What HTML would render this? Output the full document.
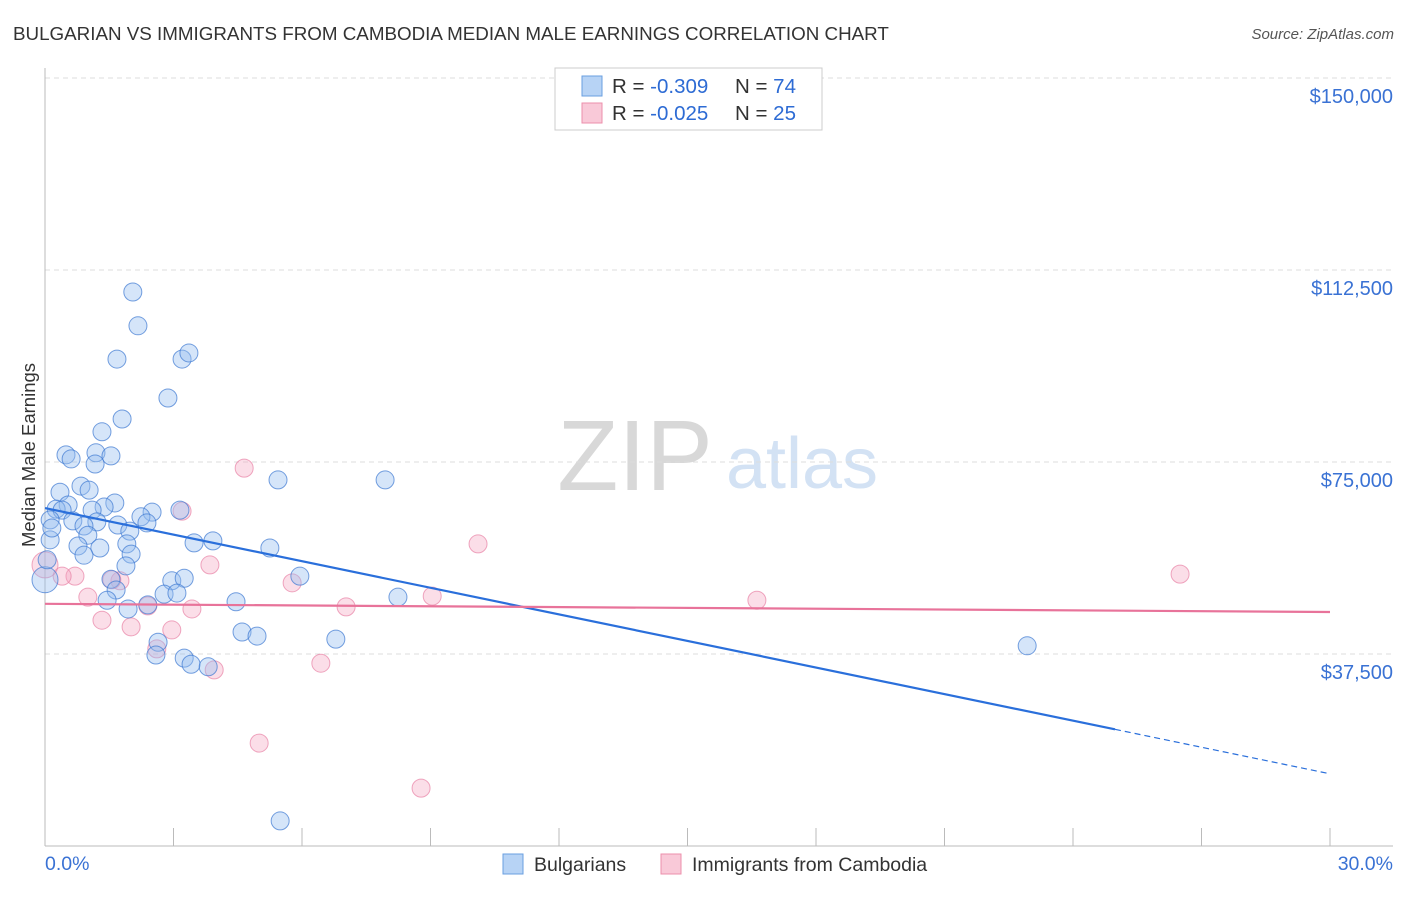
<!DOCTYPE html>
<html><head><meta charset="utf-8"><style>
body{margin:0;background:#fff;font-family:"Liberation Sans",sans-serif;}
svg text{font-family:"Liberation Sans",sans-serif;}
</style></head><body>
<svg id="chart" width="1406" height="892">
<text x="13" y="40" font-size="18.8" fill="#333">BULGARIAN VS IMMIGRANTS FROM CAMBODIA MEDIAN MALE EARNINGS CORRELATION CHART</text>
<text x="1394" y="39" font-size="15" fill="#555" font-style="italic" text-anchor="end">Source: ZipAtlas.com</text>
<g>
<text x="635" y="490" font-size="100" fill="#d8d8d8" font-family="Liberation Serif" text-anchor="middle">ZIP</text>
<text x="802" y="488" font-size="72" fill="#d3e2f4" text-anchor="middle">atlas</text>
</g>
<g id="grid"></g>
<g id="axes"></g>
<g id="marks"></g>
<text transform="translate(35,455) rotate(-90)" font-size="18.5" fill="#333" text-anchor="middle">Median Male Earnings</text>
<g>
<rect x="555" y="68" width="267" height="62" fill="#fff" stroke="#ccc"/>
<rect x="582" y="76" width="20" height="20" fill="#b7d3f5" stroke="#6a9fe0"/>
<rect x="582" y="103" width="20" height="20" fill="#f9c9d8" stroke="#ec8fab"/>
<text x="612" y="93" font-size="20.5" fill="#333">R = <tspan fill="#2d6bd4">-0.309</tspan><tspan x="735">N = </tspan><tspan fill="#2d6bd4">74</tspan></text>
<text x="612" y="120" font-size="20.5" fill="#333">R = <tspan fill="#2d6bd4">-0.025</tspan><tspan x="735">N = </tspan><tspan fill="#2d6bd4">25</tspan></text>
</g>
<g>
<rect x="503" y="854" width="20" height="20" fill="#b7d3f5" stroke="#6a9fe0"/>
<text x="534" y="871" font-size="19.5" fill="#333">Bulgarians</text>
<rect x="661" y="854" width="20" height="20" fill="#f9c9d8" stroke="#ec8fab"/>
<text x="692" y="871" font-size="19.5" fill="#333">Immigrants from Cambodia</text>
</g>
</svg>
<script>
const xTickLabels=["0.0%","30.0%"];
const yTicks=[37500,75000,112500,150000];
const yTickLabels=["$37,500","$75,000","$112,500","$150,000"];
const blueX=[2.05,2.17,1.68,3.20,3.36,2.87,1.80,1.33,0.49,0.61,1.19,1.54,1.17,5.44,7.94,0.35,0.84,1.03,1.63,1.38,0.54,0.26,0.40,1.10,2.50,2.24,3.15,0.12,0.65,1.21,0.91,2.38,1.70,1.98,1.00,0.12,0.77,1.28,3.48,3.92,1.91,5.25,0.91,2.01,1.89,5.95,2.96,3.25,1.54,1.66,2.78,3.08,1.45,4.46,2.40,1.94,8.24,4.60,4.95,6.79,2.64,2.59,3.25,3.41,3.81,22.93,5.49,0.00,0.16,0.05];
const blueY=[108.2,101.6,95.1,95.1,96.3,87.5,83.4,80.9,76.4,75.6,76.8,76.2,74.6,71.5,71.5,69.1,70.3,69.5,67.0,66.2,66.6,65.8,65.6,65.6,65.2,64.3,65.6,63.7,63.5,63.3,62.5,63.1,62.7,61.5,60.7,59.8,58.6,58.2,59.2,59.6,59.0,58.2,56.8,57.0,54.7,52.7,51.8,52.3,52.1,50.0,49.2,49.4,48.0,47.7,47.1,46.3,48.6,41.8,41.0,40.4,39.8,37.3,36.7,35.5,35.0,39.1,4.9,52.0,62.1,55.9];
const pinkX=[4.65,10.11,3.20,3.85,5.77,1.75,0.70,0.40,0.00,1.00,1.56,9.04,7.03,3.43,1.33,2.40,2.01,2.96,2.61,6.44,3.95,5.00,8.78,16.62,26.50];
const pinkY=[73.8,59.0,65.4,54.9,51.4,51.8,52.7,52.7,54.9,48.6,52.0,48.8,46.7,46.3,44.1,46.9,42.8,42.2,38.5,35.7,34.4,20.1,11.3,48.0,53.1];
const blueTrend=[66.0,14.1];
const blueSolidEnd=24.98;
const pinkTrend=[47.3,45.7];
const NS="http://www.w3.org/2000/svg";
const X0=45,X1=1330,Y0=846,Y150=78;
function sx(v){return X0+(v/30)*(X1-X0);}
function sy(v){return Y0-(v/150000)*(Y0-Y150);}
function mk(tag,attrs,parent){const e=document.createElementNS(NS,tag);for(const k in attrs)e.setAttribute(k,attrs[k]);parent.appendChild(e);return e;}
const grid=document.getElementById('grid'),axes=document.getElementById('axes'),marks=document.getElementById('marks');
yTicks.forEach((t,i)=>{
 const l=mk('line',{x1:45,x2:1393,y1:sy(t),y2:sy(t),stroke:'#ddd','stroke-dasharray':'5,4'},grid);
 
 
 const tx=mk('text',{x:1393,y:sy(t)+25,'font-size':20,fill:'#3a72d4','text-anchor':'end'},axes);
 tx.textContent=yTickLabels[i];
 
 
});
let a=mk('line',{x1:45,x2:45,y1:68,y2:846,stroke:'#bbb'},axes);


a=mk('line',{x1:45,x2:1393,y1:846,y2:846,stroke:'#bbb'},axes);


for(let i=0;i<=10;i++){const t=mk('line',{x1:sx(i*3),x2:sx(i*3),y1:828,y2:846,stroke:'#bbb'},axes);
 
 }
let xl=mk('text',{x:45,y:870,'font-size':19.5,fill:'#3a72d4'},axes);xl.textContent=xTickLabels[0];


xl=mk('text',{x:1393,y:870,'font-size':19.5,fill:'#3a72d4','text-anchor':'end'},axes);xl.textContent=xTickLabels[1];


pinkX.forEach((x,i)=>{const c=mk('circle',{cx:sx(x),cy:sy(pinkY[i]*1000),r:(x===0?13:9),fill:'rgba(244,160,188,0.35)',stroke:'rgba(232,130,165,0.7)','stroke-width':1},marks);
 
 });
blueX.forEach((x,i)=>{const c=mk('circle',{cx:sx(x),cy:sy(blueY[i]*1000),r:(x===0?13:9),fill:'rgba(150,190,240,0.4)',stroke:'rgba(60,120,210,0.7)','stroke-width':1},marks);
 
 });
function ty(tr,x){return (tr[0]+(tr[1]-tr[0])*x/30)*1000;}
let ln=mk('line',{x1:sx(0),y1:sy(ty(blueTrend,0)),x2:sx(blueSolidEnd),y2:sy(ty(blueTrend,blueSolidEnd)),stroke:'#2a6fdb','stroke-width':2.2},marks);


ln=mk('line',{x1:sx(blueSolidEnd),y1:sy(ty(blueTrend,blueSolidEnd)),x2:sx(30),y2:sy(ty(blueTrend,30)),stroke:'#2a6fdb','stroke-width':1.2,'stroke-dasharray':'6,4'},marks);


ln=mk('line',{x1:sx(0),y1:sy(ty(pinkTrend,0)),x2:sx(30),y2:sy(ty(pinkTrend,30)),stroke:'#e8739a','stroke-width':2.2},marks);


</script>
</body></html>
